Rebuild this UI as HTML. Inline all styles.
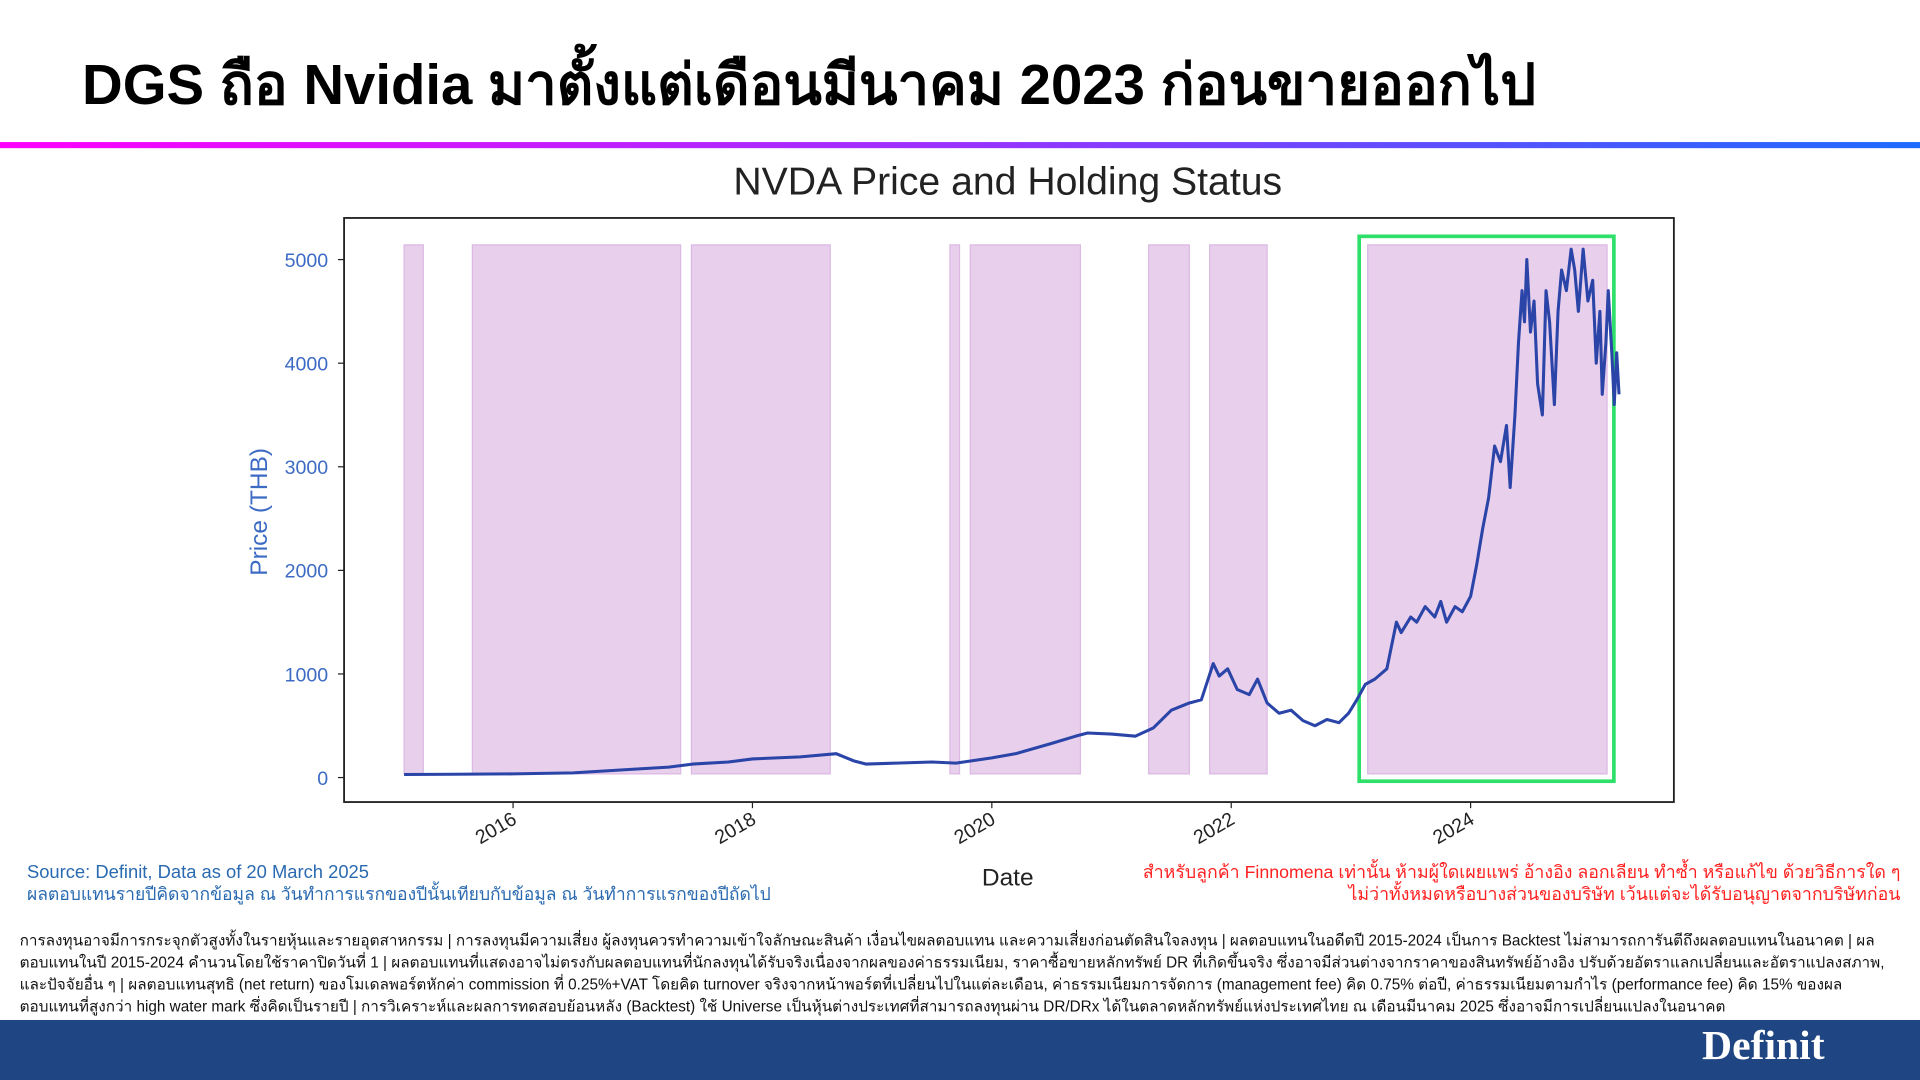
<!DOCTYPE html>
<html><head><meta charset="utf-8">
<style>
html,body{margin:0;padding:0;background:#fff;overflow:hidden;width:1920px;height:1080px}
#wrap{position:absolute;left:0;top:0;width:1568px;height:882px;transform:scale(1.22449);transform-origin:0 0;font-family:"Liberation Sans","Noto Sans CJK SC",sans-serif}
.abs{position:absolute;white-space:nowrap}
</style></head><body>
<div id="wrap">
<div class="abs" style="left:67px;top:33px;font-size:46px;font-weight:bold;color:#000">DGS ถือ Nvidia มาตั้งแต่เดือนมีนาคม 2023 ก่อนขายออกไป</div>
<div class="abs" style="left:0;top:116px;width:1568px;height:5px;background:linear-gradient(90deg,#ff00ff,#9a33ff 50%,#1e6bff)"></div>
<svg class="abs" style="left:0;top:0" width="1568" height="882">
<text x="823" y="159" text-anchor="middle" font-size="32" fill="#222">NVDA Price and Holding Status</text>
<g id="spans"></g>
<rect x="1110" y="193" width="208" height="445" fill="none" stroke="#2ee06a" stroke-width="3"/>
<path id="line" fill="none" stroke="#2a44a8" stroke-width="2.5" stroke-linejoin="round"/>
<rect x="281" y="178" width="1086" height="477" fill="none" stroke="#222" stroke-width="1.5"/>
<g id="yt"></g><g id="xt"></g>
<text transform="translate(218,418) rotate(-90)" text-anchor="middle" font-size="20" fill="#3d6bc4">Price (THB)</text>
<text x="823" y="723" text-anchor="middle" font-size="20" fill="#222">Date</text>
</svg>
<div class="abs" style="left:22px;top:704px;font-size:15px;color:#2a6ab0;line-height:18px">Source: Definit, Data as of 20 March 2025<br><span style="font-size:14.3px">ผลตอบแทนรายปีคิดจากข้อมูล ณ วันทำการแรกของปีนั้นเทียบกับข้อมูล ณ วันทำการแรกของปีถัดไป</span></div>
<div class="abs" style="right:16px;top:704px;font-size:14.5px;color:#ff2020;text-align:right;line-height:18px">สำหรับลูกค้า Finnomena เท่านั้น ห้ามผู้ใดเผยแพร่ อ้างอิง ลอกเลียน ทำซ้ำ หรือแก้ไข ด้วยวิธีการใด ๆ<br>ไม่ว่าทั้งหมดหรือบางส่วนของบริษัท เว้นแต่จะได้รับอนุญาตจากบริษัทก่อน</div>
<div class="abs" style="left:16px;top:759px;width:1530px;white-space:normal;font-size:12.5px;line-height:18px;color:#111;overflow:hidden;height:72px">การลงทุนอาจมีการกระจุกตัวสูงทั้งในรายหุ้นและรายอุตสาหกรรม | การลงทุนมีความเสี่ยง ผู้ลงทุนควรทำความเข้าใจลักษณะสินค้า เงื่อนไขผลตอบแทน และความเสี่ยงก่อนตัดสินใจลงทุน | ผลตอบแทนในอดีตปี 2015-2024 เป็นการ Backtest ไม่สามารถการันตีถึงผลตอบแทนในอนาคต | ผลตอบแทนในปี 2015-2024 คำนวนโดยใช้ราคาปิดวันที่ 1 | ผลตอบแทนที่แสดงอาจไม่ตรงกับผลตอบแทนที่นักลงทุนได้รับจริงเนื่องจากผลของค่าธรรมเนียม, ราคาซื้อขายหลักทรัพย์ DR ที่เกิดขึ้นจริง ซึ่งอาจมีส่วนต่างจากราคาของสินทรัพย์อ้างอิง ปรับด้วยอัตราแลกเปลี่ยนและอัตราแปลงสภาพ, และปัจจัยอื่น ๆ | ผลตอบแทนสุทธิ (net return) ของโมเดลพอร์ตหักค่า commission ที่ 0.25%+VAT โดยคิด turnover จริงจากหน้าพอร์ตที่เปลี่ยนไปในแต่ละเดือน, ค่าธรรมเนียมการจัดการ (management fee) คิด 0.75% ต่อปี, ค่าธรรมเนียมตามกำไร (performance fee) คิด 15% ของผลตอบแทนที่สูงกว่า high water mark ซึ่งคิดเป็นรายปี | การวิเคราะห์และผลการทดสอบย้อนหลัง (Backtest) ใช้ Universe เป็นหุ้นต่างประเทศที่สามารถลงทุนผ่าน DR/DRx ได้ในตลาดหลักทรัพย์แห่งประเทศไทย ณ เดือนมีนาคม 2025 ซึ่งอาจมีการเปลี่ยนแปลงในอนาคต</div>
<div class="abs" style="left:0;top:833px;width:1568px;height:49px;background:#1f4582"></div>
<div class="abs" style="left:1390px;top:836px;font-family:'Liberation Serif',serif;font-weight:bold;font-size:34px;color:#fff">Definit</div>
</div>
<script>
const holdStart=[2015.09,2015.66,2017.49,2019.65,2019.82,2021.31,2021.82,2023.14];
const holdEnd=[2015.25,2017.40,2018.65,2019.73,2020.74,2021.65,2022.30,2025.14];
const yTicks=[0,1000,2000,3000,4000,5000];
const xTicks=[2016,2018,2020,2022,2024];
const dates=[2015.09,2015.5,2016.0,2016.5,2017.0,2017.3,2017.5,2017.8,2018.0,2018.4,2018.7,2018.85,2018.95,2019.2,2019.5,2019.7,2020.0,2020.2,2020.5,2020.7,2020.8,2021.0,2021.2,2021.35,2021.5,2021.65,2021.75,2021.85,2021.9,2021.97,2022.05,2022.15,2022.22,2022.3,2022.4,2022.5,2022.6,2022.7,2022.8,2022.9,2022.98,2023.05,2023.12,2023.2,2023.3,2023.38,2023.42,2023.5,2023.55,2023.62,2023.7,2023.75,2023.8,2023.87,2023.93,2024.0,2024.05,2024.1,2024.15,2024.2,2024.25,2024.3,2024.33,2024.37,2024.4,2024.43,2024.45,2024.47,2024.5,2024.53,2024.56,2024.6,2024.63,2024.66,2024.7,2024.73,2024.76,2024.8,2024.84,2024.87,2024.9,2024.94,2024.98,2025.02,2025.05,2025.08,2025.1,2025.13,2025.15,2025.18,2025.2,2025.22,2025.24];
const prices=[30,32,35,45,80,100,130,150,180,200,230,160,130,140,150,140,190,230,330,400,430,420,400,480,650,720,750,1100,980,1050,850,800,950,720,620,650,550,500,560,530,620,750,900,950,1050,1500,1400,1550,1500,1650,1550,1700,1500,1650,1600,1750,2050,2400,2700,3200,3050,3400,2800,3500,4200,4700,4400,5000,4300,4600,3800,3500,4700,4400,3600,4500,4900,4700,5100,4900,4500,5100,4600,4800,4000,4500,3700,4200,4700,4100,3600,4100,3700];
function X(d){return 419+(d-2016)*97.75}
function Y(v){return 635-v*0.0846}
const sp=document.getElementById('spans');
for(let i=0;i<holdStart.length;i++){
 const r=document.createElementNS('http://www.w3.org/2000/svg','rect');
 r.setAttribute('x',X(holdStart[i]));r.setAttribute('y',200);
 r.setAttribute('width',X(holdEnd[i])-X(holdStart[i]));r.setAttribute('height',432);
 r.setAttribute('fill','#e8cfec');r.setAttribute('stroke','#dcb8e4');
 
 
 sp.appendChild(r);
}
let d='';dates.forEach((t,i)=>{d+=(i?'L':'M')+X(t).toFixed(1)+','+Y(prices[i]).toFixed(1)});
document.getElementById('line').setAttribute('d',d);
const yt=document.getElementById('yt');
yTicks.forEach(v=>{
 const t=document.createElementNS('http://www.w3.org/2000/svg','text');
 t.setAttribute('x',268);t.setAttribute('y',Y(v)+6);t.setAttribute('text-anchor','end');
 t.setAttribute('font-size','16');t.setAttribute('fill','#3d6bc4');t.textContent=v;
 
 
 yt.appendChild(t);
 const l=document.createElementNS('http://www.w3.org/2000/svg','line');
 l.setAttribute('x1',276);l.setAttribute('x2',281);l.setAttribute('y1',Y(v));l.setAttribute('y2',Y(v));l.setAttribute('stroke','#222');
 
 
 yt.appendChild(l);
});
const xt=document.getElementById('xt');
xTicks.forEach(v=>{
 const x=X(v);
 const l=document.createElementNS('http://www.w3.org/2000/svg','line');
 l.setAttribute('x1',x);l.setAttribute('x2',x);l.setAttribute('y1',655);l.setAttribute('y2',660);l.setAttribute('stroke','#222');
 
 
 xt.appendChild(l);
 const t=document.createElementNS('http://www.w3.org/2000/svg','text');
 t.setAttribute('transform','translate('+(x+4)+',672) rotate(-30)');
 t.setAttribute('text-anchor','end');t.setAttribute('font-size','16');t.setAttribute('fill','#222');t.textContent=v;
 
 
 xt.appendChild(t);
});
</script>
</body></html>
